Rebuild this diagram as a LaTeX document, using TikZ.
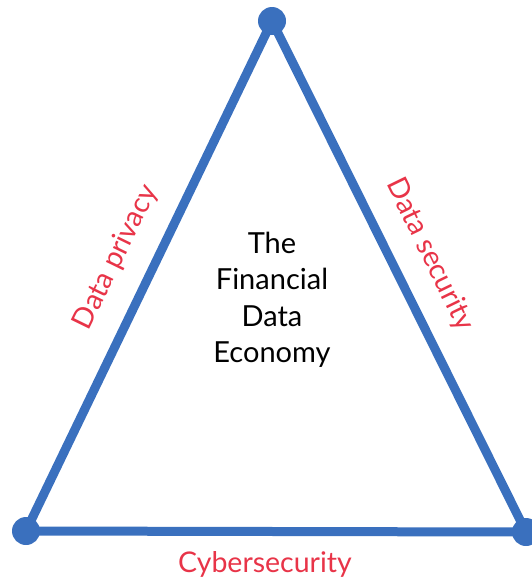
\documentclass[tikz,border=0pt]{standalone}
\usepackage{fontspec}
\setmainfont{Lato}
\definecolor{triblue}{RGB}{58,112,190}
\definecolor{labred}{RGB}{232,52,72}
\begin{document}
\begin{tikzpicture}[x=1pt,y=-1pt,
  edge/.style={draw=triblue,line width=9pt,line cap=round},
  dot/.style={circle,fill=triblue,minimum size=28pt,inner sep=0pt},
  lab/.style={text=labred,font=\fontsize{28.5}{32}\selectfont,inner sep=0pt},
  centre/.style={font=\fontsize{29}{36.5}\selectfont,align=center,inner sep=0pt}]
\useasboundingbox (0,0) rectangle (532,581);
\node[dot] (t) at (272,21) {};
\node[dot] (l) at (26,531) {};
\node[dot] (r) at (526,532) {};
\draw[edge] (t.center) -- (l.center);
\draw[edge] (t.center) -- (r.center);
\draw[edge] (l.center) -- (r.center);
\node[centre] (c) at (272,300) {The\\Financial\\Data\\Economy};
\node[lab,rotate=64] (p) at (116,257) {Data privacy};
\node[lab,rotate=-64] (s) at (430,255) {Data security};
\node[lab] (y) at (265,564) {Cybersecurity};
\end{tikzpicture}
\end{document}
